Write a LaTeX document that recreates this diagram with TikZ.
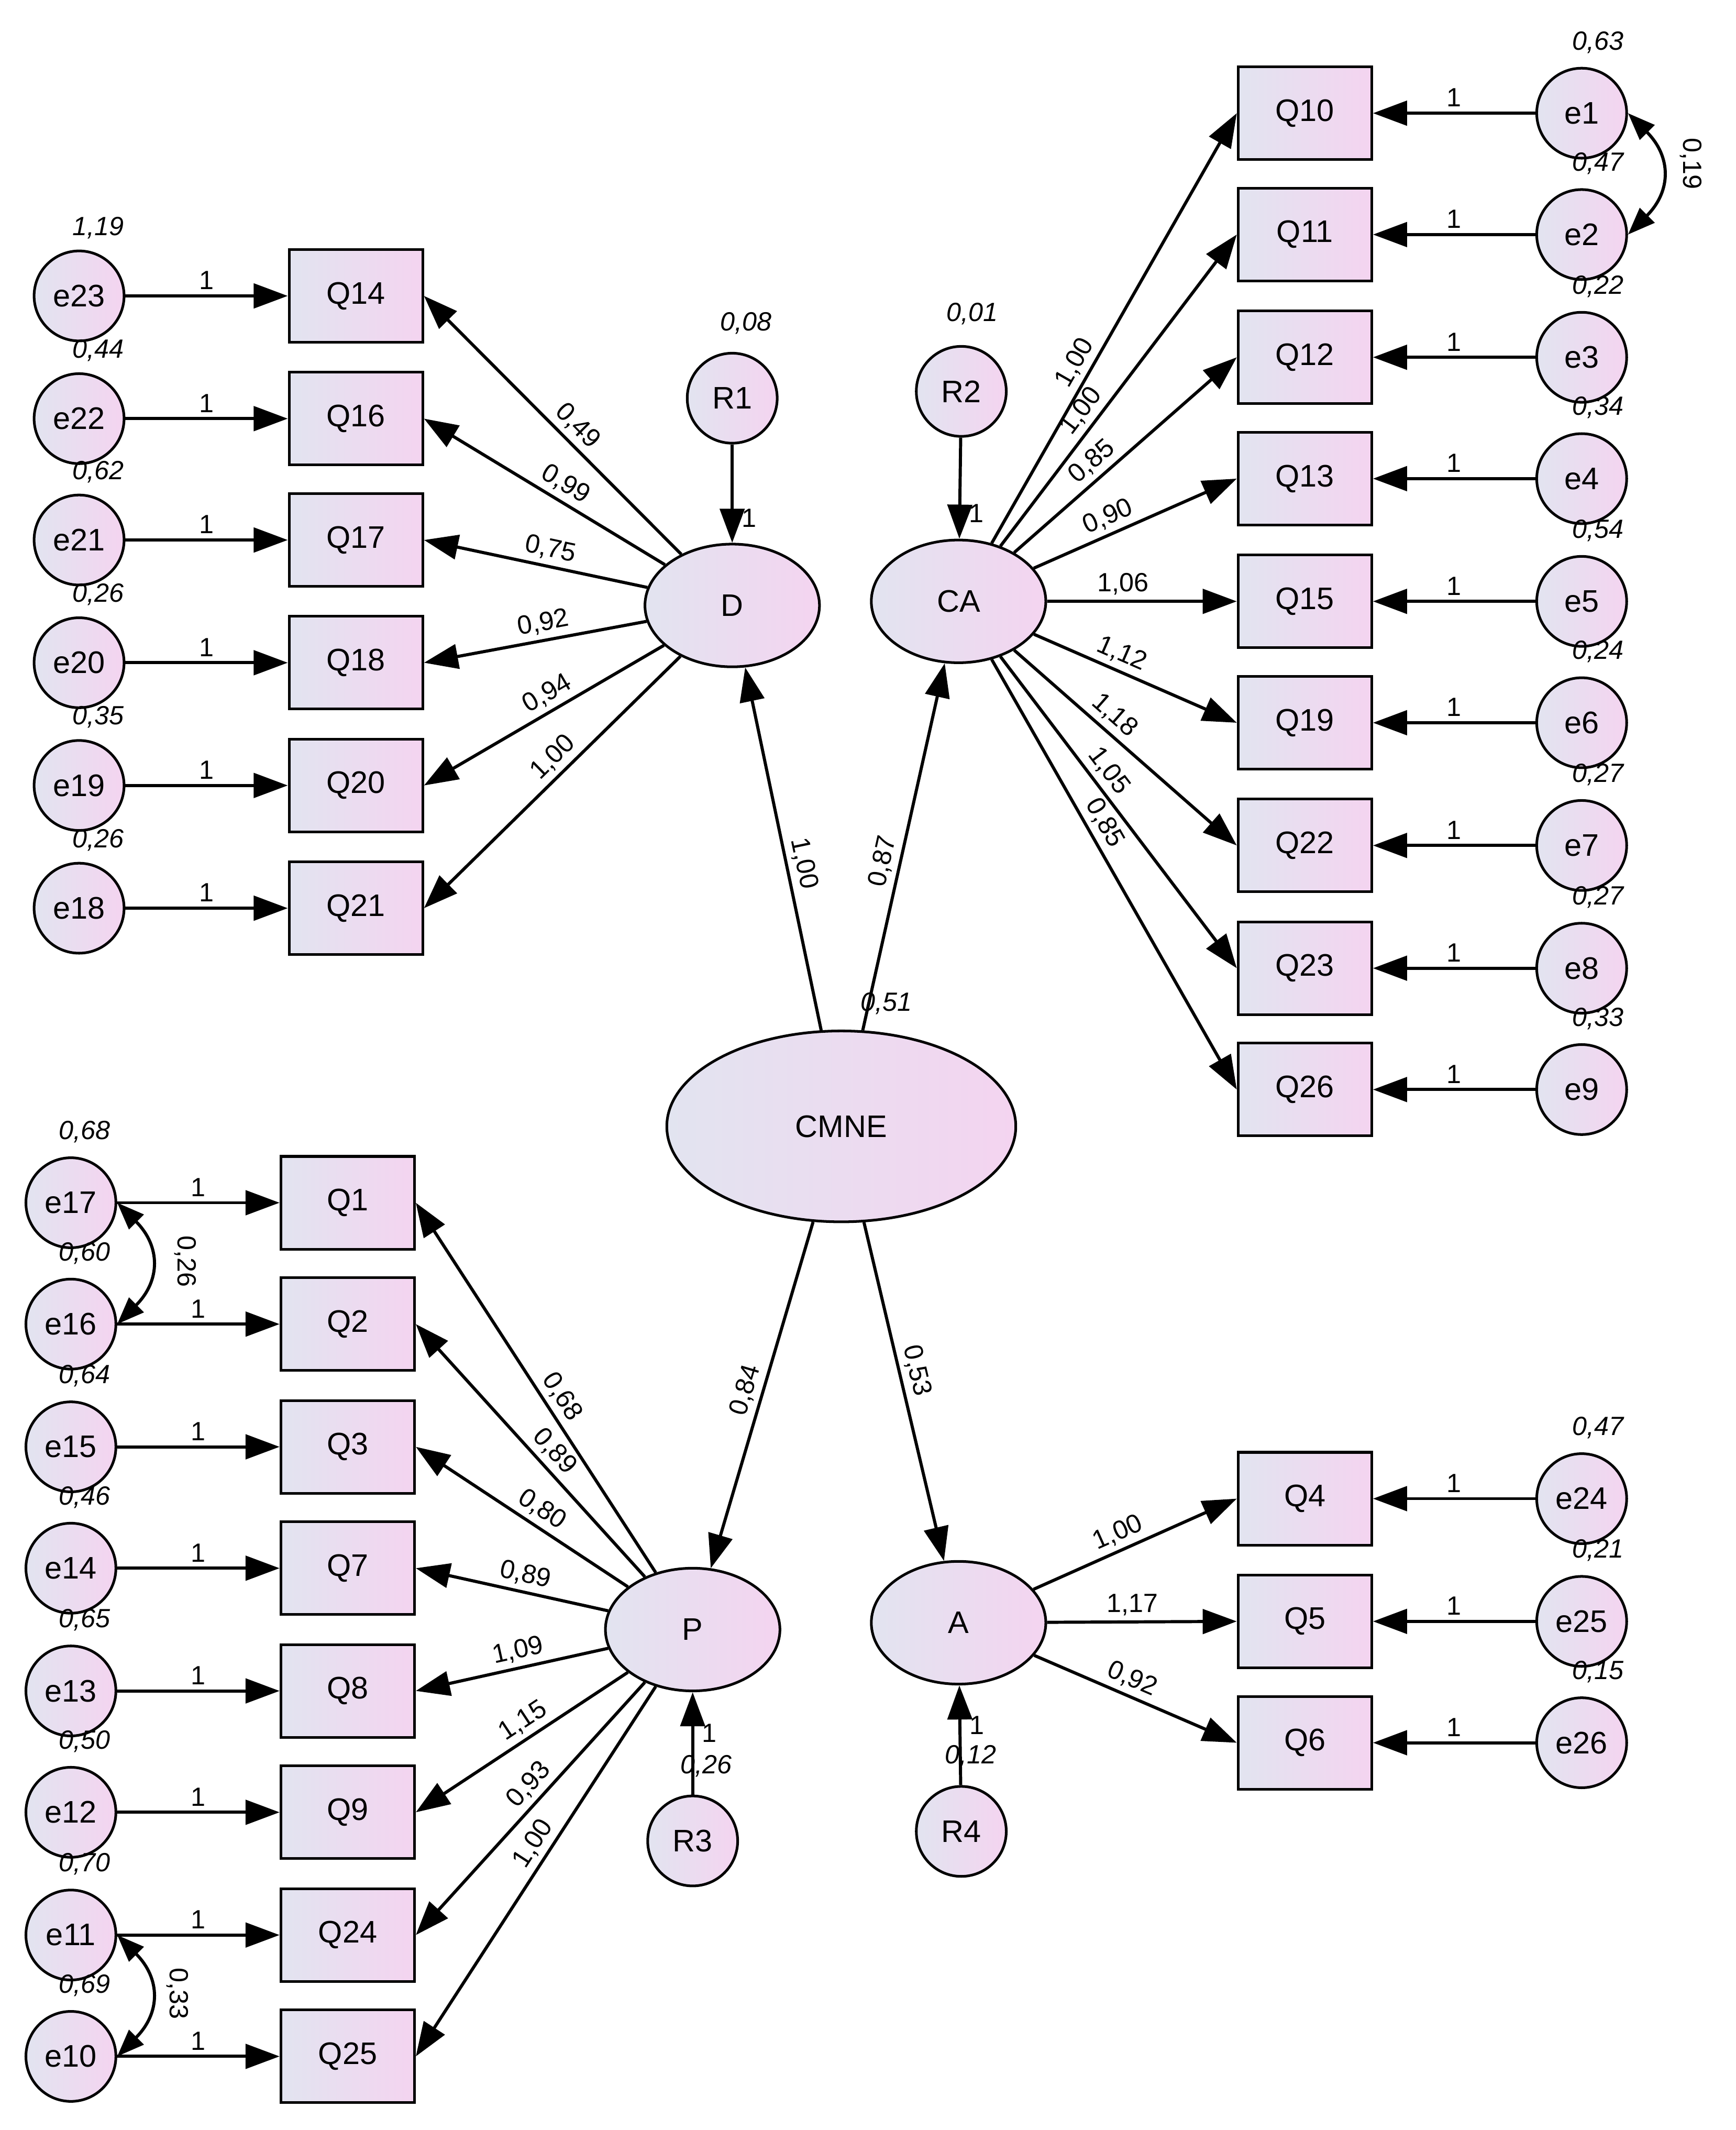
\documentclass[tikz,border=0pt]{standalone}
\usepackage{fontspec}
\setmainfont{Liberation Sans}
\usetikzlibrary{arrows.meta,shapes.geometric}
\definecolor{ca}{HTML}{E2E4F0}
\definecolor{cb}{HTML}{F4D4F0}
\begin{document}
\begin{tikzpicture}[x=0.02cm,y=-0.02cm,
 box/.style={draw,line width=1.1pt,left color=ca,right color=cb,minimum width=1.96cm,minimum height=1.36cm,font=\fontsize{13}{15}\selectfont},
 ec/.style={draw,circle,line width=1.1pt,left color=ca,right color=cb,minimum size=1.32cm,inner sep=0pt,font=\fontsize{13}{15}\selectfont},
 el/.style={draw,ellipse,line width=1.1pt,left color=ca,right color=cb,minimum width=2.56cm,minimum height=1.8cm,font=\fontsize{13}{15}\selectfont},
 arr/.style={-{Triangle[length=0.5cm,width=0.36cm]},line width=1.3pt},
 dar/.style={{Triangle[length=0.4cm,width=0.3cm]}-{Triangle[length=0.4cm,width=0.3cm]},line width=1.3pt},
 var/.style={font=\fontsize{11}{13}\selectfont\itshape},
 lab/.style={font=\fontsize{11}{13}\selectfont,sloped,above,inner sep=2pt},
 one/.style={font=\fontsize{11}{13}\selectfont,above,inner sep=2pt}]
\useasboundingbox (0,0) rectangle (1273,1562);
% latent
\node[el] (D) at (537,444) {D};
\node[el] (CA) at (703,441) {CA};
\node[el] (P) at (508,1195) {P};
\node[el] (A) at (703,1190) {A};
\node[el,minimum width=5.12cm,minimum height=2.8cm] (CMNE) at (617,826) {CMNE};
\node[var] at (650,736) {0,51};
\node[ec] (R1) at (537,292) {R1}; \node[var] at (547,237) {0,08};
\node[ec] (R2) at (705,287) {R2}; \node[var] at (713,230) {0,01};
\node[ec] (R3) at (508,1350) {R3}; \node[var] at (518,1295) {0,26};
\node[ec] (R4) at (705,1343) {R4}; \node[var] at (712,1288) {0,12};
\draw[arr] (R1) -- node[pos=0.75,right,font=\fontsize{11}{13}\selectfont]{1} (D);
\draw[arr] (R2) -- node[pos=0.75,right,font=\fontsize{11}{13}\selectfont]{1} (CA);
\draw[arr] (R3) -- node[pos=0.6,right,font=\fontsize{11}{13}\selectfont]{1} (P);
\draw[arr] (R4) -- node[pos=0.6,right,font=\fontsize{11}{13}\selectfont]{1} (A);
\draw[arr] (CMNE) -- node[lab,pos=0.45]{1,00} (D);
\draw[arr] (CMNE) -- node[lab,pos=0.45]{0,87} (CA);
\draw[arr] (CMNE) -- node[lab,pos=0.5]{0,84} (P);
\draw[arr] (CMNE) -- node[lab,pos=0.45]{0,53} (A);
% CA group
\foreach \q/\e/\y/\v/\l in {Q10/e1/83/{0,63}/{1,00},Q11/e2/172/{0,47}/{1,00},Q12/e3/262/{0,22}/{0,85},Q13/e4/351/{0,34}/{0,90},Q15/e5/441/{0,54}/{1,06},Q19/e6/530/{0,24}/{1,12},Q22/e7/620/{0,27}/{1,18},Q23/e8/710/{0,27}/{1,05},Q26/e9/799/{0,33}/{0,85}}{
 \node[box] (\q) at (957,\y) {\q};
 \node[ec] (\e) at (1160,\y) {\e};
 \node[var] at (1172,\y-52) {\v};
 \draw[arr] (\e) -- node[one]{1} (\q);
 \draw[arr] (CA) -- node[lab,pos=0.4]{\l} (\q.west);
}
% D group
\foreach \q/\e/\y/\v/\l in {Q14/e23/217/{1,19}/{0,49},Q16/e22/307/{0,44}/{0,99},Q17/e21/396/{0,62}/{0,75},Q18/e20/486/{0,26}/{0,92},Q20/e19/576/{0,35}/{0,94},Q21/e18/666/{0,26}/{1,00}}{
 \node[box] (\q) at (261,\y) {\q};
 \node[ec] (\e) at (58,\y) {\e};
 \node[var] at (72,\y-50) {\v};
 \draw[arr] (\e) -- node[one]{1} (\q);
 \draw[arr] (D) -- node[lab,pos=0.45]{\l} (\q.east);
}
% P group
\foreach \q/\e/\y/\v/\l in {Q1/e17/882/{0,68}/{0,68},Q2/e16/971/{0,60}/{0,89},Q3/e15/1061/{0,64}/{0,80},Q7/e14/1150/{0,46}/{0,89},Q8/e13/1240/{0,65}/{1,09},Q9/e12/1329/{0,50}/{1,15},Q24/e11/1419/{0,70}/{0,93},Q25/e10/1508/{0,69}/{1,00}}{
 \node[box] (\q) at (255,\y) {\q};
 \node[ec] (\e) at (52,\y) {\e};
 \node[var] at (62,\y-52) {\v};
 \draw[arr] (\e) -- node[one]{1} (\q);
 \draw[arr] (P) -- node[lab,pos=0.45]{\l} (\q.east);
}
% A group
\foreach \q/\e/\y/\v/\l in {Q4/e24/1099/{0,47}/{1,00},Q5/e25/1189/{0,21}/{1,17},Q6/e26/1278/{0,15}/{0,92}}{
 \node[box] (\q) at (957,\y) {\q};
 \node[ec] (\e) at (1160,\y) {\e};
 \node[var] at (1172,\y-52) {\v};
 \draw[arr] (\e) -- node[one]{1} (\q);
 \draw[arr] (A) -- node[lab,pos=0.45]{\l} (\q.west);
}
% covariances
\draw[dar] (e1.east) to[out=-45,in=45,looseness=1.3] (e2.east);
\node[font=\fontsize{11}{13}\selectfont,rotate=-90] (c1) at (1240,120) {0,19};
\draw[dar] (e17.east) to[out=-45,in=45,looseness=1.3] (e16.east);
\node[font=\fontsize{11}{13}\selectfont,rotate=-90] (c2) at (136,925) {0,26};
\draw[dar] (e11.east) to[out=-45,in=45,looseness=1.3] (e10.east);
\node[font=\fontsize{11}{13}\selectfont,rotate=-90] (c3) at (130,1462) {0,33};
\end{tikzpicture}
\end{document}
